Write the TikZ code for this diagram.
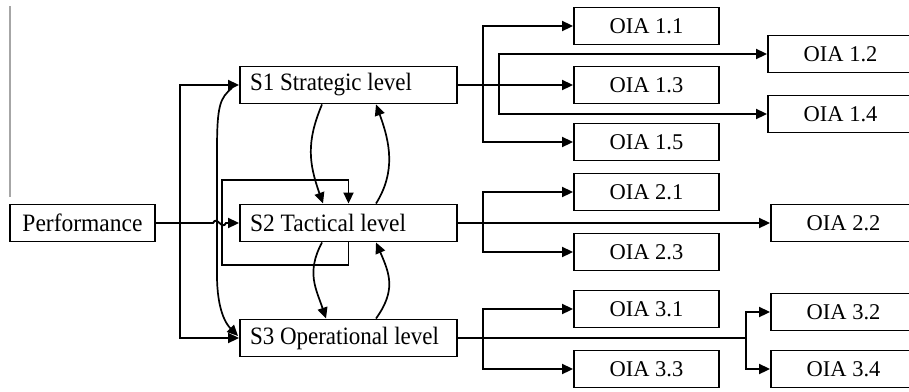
\documentclass[tikz,border=0pt]{standalone}
\usepackage{fontspec}
\usepackage{graphicx}
\setmainfont{Liberation Serif}
\usetikzlibrary{arrows.meta}
\newcommand{\fitw}[2]{\resizebox{#1}{\height}{#2}}
\newcommand{\lefttext}[2]{\makebox[197pt][l]{\fitw{#1}{#2}}}
\begin{document}
\begin{tikzpicture}[x=1pt,y=-1pt,
  line width=1.9pt,
  box/.style={draw, line width=1.9pt, minimum height=37pt, inner sep=0pt},
  sbox/.style={box, minimum width=217pt, font=\fontsize{25}{28}\selectfont},
  pbox/.style={box, minimum width=145pt, font=\fontsize{25}{28}\selectfont},
  obox/.style={box, minimum width=145pt, font=\fontsize{22.5}{26}\selectfont},
  arr/.style={-{Triangle[length=11pt,width=10pt]}},
  curv/.style={line width=1.7pt, -{Triangle[length=11pt,width=10pt]}}
]
\useasboundingbox (0,0) rectangle (909,391);
\begin{scope}
\clip (0,0) rectangle (909,391);
% stray gray rule at left
\draw[gray!70, line width=1.2pt] (10,6) -- (10,197);

% nodes
\node[pbox] (perf) at (82.5,223) {\fitw{120pt}{Performance}};
\node[sbox] (S1) at (348.5,85) {\lefttext{162pt}{S1 Strategic level}};
\node[sbox] (S2) at (348.5,223) {\lefttext{156pt}{S2 Tactical level}};
\node[sbox] (S3) at (348.5,338) {\lefttext{189pt}{S3 Operational level}};

\node[obox] (O11) at (646.5,26) {OIA 1.1};
\node[obox] (O13) at (646.5,85) {OIA 1.3};
\node[obox] (O15) at (646.5,142) {OIA 1.5};
\node[obox] (O21) at (646.5,192) {OIA 2.1};
\node[obox] (O23) at (646.5,252) {OIA 2.3};
\node[obox] (O31) at (646.5,309) {OIA 3.1};
\node[obox] (O33) at (646.5,369) {OIA 3.3};

\node[obox] (O12) at (840.5,54) {OIA 1.2};
\node[obox] (O14) at (840.5,114) {OIA 1.4};
\node[obox] (O22) at (843.5,223) {OIA 2.2};
\node[obox] (O32) at (843.5,312) {OIA 3.2};
\node[obox] (O34) at (843.5,369) {OIA 3.4};

% junction coordinates
\coordinate (jp) at (180,223);
\coordinate (ja) at (483,85);
\coordinate (jb) at (499,85);
\coordinate (jc) at (483,223);
\coordinate (jd) at (483,338);
\coordinate (je) at (746,338);
\coordinate (l1) at (348.5,265);
\coordinate (l2) at (222,265);
\coordinate (l3) at (222,180);
\coordinate (l4) at (348.5,180);

% Performance to S-levels
\draw[arr] (perf.east) -- (213,223) .. controls (217,215) and (222,231) .. (226,223) -- (S2.west);
\draw[arr] (jp) |- (S1.west);
\draw[arr] (jp) |- (S3.west);

% long curve S1 -> S3
\draw[curv] ([shift={(-7,3)}]S1.west) .. controls +(-12,10) and +(0,-45) .. (217,150)
  -- (217,275) .. controls +(0,35) and +(-12,-12) .. ([shift={(-1,-2)}]S3.west);

% self loop of S2
\draw[arr] (S2.south) -- (l1) -- (l2) -- (l3) -- (l4) -- (S2.north);

% curves between levels
\draw[curv] ([xshift=-26.5pt]S1.south) .. controls +(-16,38) and +(-14,-40) .. ([xshift=-25.5pt]S2.north);
\draw[curv] ([xshift=27.5pt]S2.north) .. controls +(20,-32) and +(14,38) .. ([xshift=27.5pt]S1.south);
\draw[curv] ([xshift=-26.5pt]S2.south) .. controls +(-16,30) and +(-10,-30) .. ([xshift=-22.5pt]S3.north);
\draw[curv] ([xshift=27.5pt]S3.north) .. controls +(20,-28) and +(14,32) .. ([xshift=27.5pt]S2.south);

% S1 outputs
\draw[arr] (S1.east) -- (O13.west);
\draw[arr] (ja) |- (O11.west);
\draw[arr] (ja) |- (O15.west);
\draw[arr] (jb) |- (O12.west);
\draw[arr] (jb) |- (O14.west);

% S2 outputs
\draw[arr] (S2.east) -- (O22.west);
\draw[arr] (jc) |- (O21.west);
\draw[arr] (jc) |- (O23.west);

% S3 outputs
\draw (S3.east) -- (je);
\draw[arr] (jd) |- (O31.west);
\draw[arr] (jd) |- (O33.west);
\draw[arr] (je) |- (O32.west);
\draw[arr] (je) |- (O34.west);
\end{scope}
\end{tikzpicture}
\end{document}
